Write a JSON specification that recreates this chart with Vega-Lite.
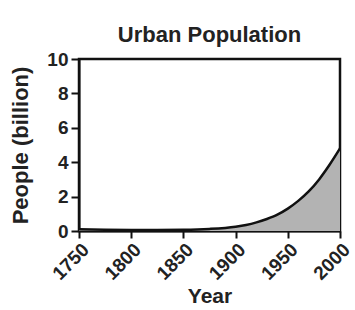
{
  "$schema": "https://vega.github.io/schema/vega-lite/v6.json",
  "autosize": "none",
  "width": 261,
  "height": 172,
  "padding": {"left": 79, "top": 59, "right": 15, "bottom": 79},
  "background": "white",
  "title": {"text": "Urban Population", "fontSize": 22, "font": "Liberation Sans", "fontWeight": "bold", "color": "#222", "offset": 3, "anchor": "middle"},
  "data": {"values": [
    {"year": 1750, "people": 0.1},
    {"year": 1775, "people": 0.07},
    {"year": 1800, "people": 0.06},
    {"year": 1825, "people": 0.06},
    {"year": 1850, "people": 0.07},
    {"year": 1875, "people": 0.12},
    {"year": 1900, "people": 0.25},
    {"year": 1910, "people": 0.35},
    {"year": 1920, "people": 0.5},
    {"year": 1930, "people": 0.7},
    {"year": 1940, "people": 0.95},
    {"year": 1950, "people": 1.3},
    {"year": 1960, "people": 1.75},
    {"year": 1970, "people": 2.3},
    {"year": 1980, "people": 3.0},
    {"year": 1990, "people": 3.85},
    {"year": 2000, "people": 4.8}
  ]},
  "mark": {"type": "area", "interpolate": "monotone", "color": "#b3b3b3", "opacity": 1, "line": {"color": "#111", "strokeWidth": 2.5}},
  "encoding": {
    "x": {"field": "year", "type": "quantitative", "title": "Year",
      "scale": {"domain": [1750, 2000], "nice": false, "zero": false},
      "axis": {"values": [1750, 1800, 1850, 1900, 1950, 2000], "format": "d", "labelAngle": -45, "grid": false,
        "tickSize": 7, "tickWidth": 2, "tickColor": "#111", "domainColor": "#111", "domainWidth": 2,
        "labelFont": "Liberation Sans", "labelFontWeight": "bold", "labelFontSize": 19, "labelColor": "#222", "labelPadding": 2,
        "titleFont": "Liberation Sans", "titleFontWeight": "bold", "titleFontSize": 21, "titleColor": "#222", "titlePadding": 2}},
    "y": {"field": "people", "type": "quantitative", "title": "People (billion)",
      "scale": {"domain": [0, 10], "nice": false},
      "axis": {"values": [0, 2, 4, 6, 8, 10], "grid": false,
        "tickSize": 8, "tickWidth": 2, "tickColor": "#111", "domainColor": "#111", "domainWidth": 2,
        "labelFont": "Liberation Sans", "labelFontWeight": "bold", "labelFontSize": 19, "labelColor": "#222", "labelPadding": 3,
        "titleFont": "Liberation Sans", "titleFontWeight": "bold", "titleFontSize": 22, "titleColor": "#222", "titlePadding": 14}}
  },
  "config": {"view": {"stroke": "#111", "strokeWidth": 2.5}}
}
